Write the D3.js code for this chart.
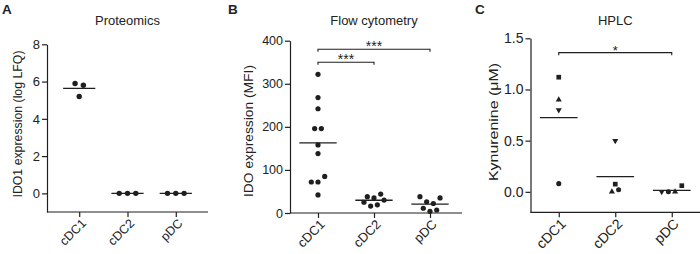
<!DOCTYPE html>
<html>
<head>
<meta charset="utf-8">
<script src="https://cdn.jsdelivr.net/npm/d3@7"></script>
<style>
  body { margin: 0; background: #fff; }
  svg text { font-family: Arial, "Liberation Sans", sans-serif; fill: #222; }
</style>
</head>
<body>
<svg id="chart" width="700" height="254"></svg>
<script>
const categories = ['cDC1', 'cDC2', 'pDC'];

// A: proteomics (log LFQ)
const protCDC1 = [5.9, 5.8, 5.2];
const protCDC2 = [0, 0, 0];
const protPDC = [0, 0, 0];
const protTicks = [0, 2, 4, 6, 8];

// B: flow cytometry (MFI)
const flowCDC1 = [322, 268, 242, 196, 196, 158, 138, 72, 72, 85, 42];
const flowCDC2 = [25, 38, 16, 35, 19, 44, 30];
const flowPDC = [38, 11, 26, 4, 22, 7, 35];
const flowTicks = [0, 100, 200, 300, 400];
const flowComparisons = [['cDC1', 'pDC', 380, '***'], ['cDC1', 'cDC2', 350, '***']];

// C: HPLC kynurenine (uM), one symbol per donor
const donors = ['D1', 'D2', 'D3', 'D4'];
const hplcCDC1 = [['D2', 1.12], ['D3', 0.90], ['D4', 0.80], ['D1', 0.08]];
const hplcCDC2 = [['D4', 0.50], ['D2', 0.075], ['D3', 0.0], ['D1', 0.02]];
const hplcPDC = [['D4', 0.0], ['D1', 0.0], ['D3', 0.0], ['D2', 0.06]];
const hplcTicks = [0, 0.5, 1.0, 1.5];
const hplcComparisons = [['cDC1', 'pDC', 1.36, '*']];

const svg = d3.select('#chart');
const ink = '#1f1f1f';

// donor -> symbol
const donorShape = d3.scaleOrdinal()
  .domain(donors)
  .range([d3.symbolCircle, d3.symbolSquare, d3.symbolTriangle, d3.symbolTriangle]);

// prism-like column scatter: points close in y share a row, row is centered
function spreadRows (values, y, spacing) {
  const rowH = 7.2;
  const order = d3.range(values.length).sort((a, b) => values[a] - values[b] || a - b);
  const rows = [];
  let row = null;
  order.forEach(i => {
    if (row && y(values[row[0]]) - y(values[i]) < rowH) row.push(i);
    else { row = [i]; rows.push(row); }
  });
  const dx = new Array(values.length);
  rows.forEach(r => {
    r.sort((a, b) => a - b);
    r.forEach((i, k) => { dx[i] = (k - (r.length - 1) / 2) * spacing; });
  });
  return dx;
}

function drawPanel (p) {
  const g = svg.append('g');

  const x = d3.scalePoint().domain(categories).range(p.xRange).padding(p.pad);
  const y = d3.scaleLinear().domain(p.yDomain).range(p.yRange);
  const bottom = p.yRange[0];
  const mid = x(categories[1]);

  // panel letter + title
  g.append('text').attr('x', p.letterX).attr('y', 13.5)
    .style('font-size', '13.5px').style('font-weight', 'bold').text(p.letter);
  g.append('text').attr('x', mid).attr('y', 25)
    .attr('text-anchor', 'middle').style('font-size', '13px').text(p.title);

  // y axis
  const ya = g.append('g')
    .attr('transform', `translate(${p.xRange[0]},0)`)
    .call(d3.axisLeft(y).tickValues(p.ticks).tickFormat(p.fmt).tickSize(5).tickSizeOuter(0).tickPadding(2));
  ya.selectAll('path, line').attr('stroke', ink).attr('stroke-width', 1.2);
  ya.selectAll('text').style('font-size', p.tickFont + 'px').attr('fill', '#222');

  g.append('text')
    .attr('transform', `translate(${p.yTitleX},${p.yTitleY}) rotate(-90)`)
    .attr('text-anchor', 'middle').attr('dy', '0.35em')
    .attr('textLength', p.yTitleLen).attr('lengthAdjust', 'spacingAndGlyphs')
    .style('font-size', '13px').text(p.yTitle);

  // x axis
  const xa = g.append('g')
    .attr('transform', `translate(0,${bottom})`)
    .call(d3.axisBottom(x).tickSize(5).tickSizeOuter(0));
  xa.select('.domain').remove();
  xa.selectAll('line').attr('stroke', ink).attr('stroke-width', 1.2);
  xa.selectAll('text')
    .style('font-size', p.catFont + 'px').attr('fill', '#222')
    .attr('text-anchor', 'end')
    .attr('transform', 'translate(4,9) rotate(-45)')
    .attr('x', 0).attr('y', 0).attr('dy', '0.35em');
  g.append('line')
    .attr('x1', p.xRange[0]).attr('x2', p.xEnd)
    .attr('y1', bottom).attr('y2', bottom)
    .attr('stroke', ink).attr('stroke-width', 1.2);

  const halfW = x.step() / 3;

  p.groups.forEach((grp, gi) => {
    const cat = categories[gi];
    const vals = grp.map(d => (Array.isArray(d) ? d[1] : d));
    const dx = spreadRows(vals, y, p.spacing);
    const m = d3.mean(vals);

    g.append('line')
      .attr('x1', x(cat) - halfW).attr('x2', x(cat) + halfW)
      .attr('y1', y(m)).attr('y2', y(m))
      .attr('stroke', ink).attr('stroke-width', 1.3);

    if (p.symbols) {
      g.selectAll(null).data(grp).join('path')
        .attr('d', d => d3.symbol(donorShape(d[0]), d[0] === 'D2' ? 22 : d[0] === 'D1' ? 20 : 16)())
        .attr('transform', (d, i) => `translate(${x(cat) + dx[i]},${y(d[1])})` + (d[0] === 'D4' ? ' rotate(180)' : ''))
        .attr('fill', ink);
    } else {
      g.selectAll(null).data(vals).join('circle')
        .attr('cx', (d, i) => x(cat) + dx[i])
        .attr('cy', d => y(d))
        .attr('r', p.r)
        .attr('fill', ink);
    }
  });

  // significance brackets
  (p.comparisons || []).forEach(c => {
    const x1 = x(c[0]);
    const x2 = x(c[1]);
    const yb = y(c[2]);
    g.append('path')
      .attr('d', `M${x1},${yb + 2.5}V${yb}H${x2}V${yb + 2.5}`)
      .attr('fill', 'none').attr('stroke', ink).attr('stroke-width', 1.1);
    g.append('text')
      .attr('x', (x1 + x2) / 2).attr('y', yb + 2)
      .attr('text-anchor', 'middle').style('font-size', p.starFont + 'px').text(c[3]);
  });
}

drawPanel({
  letter: 'A', letterX: 2, title: 'Proteomics',
  xRange: [47, 208], xEnd: 208, pad: 0.667,
  yDomain: [-1, 8], yRange: [212, 44.3], ticks: protTicks, fmt: d3.format('d'),
  yTitle: 'IDO1 expression (log LFQ)', yTitleX: 17, yTitleY: 124, yTitleLen: 147,
  tickFont: 13, catFont: 12.5,
  groups: [protCDC1, protCDC2, protPDC], spacing: 8.3, r: 2.7
});

drawPanel({
  letter: 'B', letterX: 228, title: 'Flow cytometry',
  xRange: [290, 458], xEnd: 462, pad: 0.5,
  yDomain: [0, 400], yRange: [213, 40.7], ticks: flowTicks, fmt: d3.format('d'),
  yTitle: 'IDO expression (MFI)', yTitleX: 248, yTitleY: 131, yTitleLen: 132,
  tickFont: 12.5, catFont: 13,
  groups: [flowCDC1, flowCDC2, flowPDC], spacing: 6.7, r: 2.6,
  comparisons: flowComparisons, starFont: 14
});

drawPanel({
  letter: 'C', letterX: 475, title: 'HPLC',
  xRange: [530.5, 700], xEnd: 700, pad: 0.5,
  yDomain: [-0.2, 1.5], yRange: [212.3, 38.3], ticks: hplcTicks, fmt: d3.format('.1f'),
  yTitle: 'Kynurenine (μM)', yTitleX: 493, yTitleY: 122, yTitleLen: 118,
  tickFont: 14, catFont: 14,
  groups: [hplcCDC1, hplcCDC2, hplcPDC], spacing: 6.7, symbols: true,
  comparisons: hplcComparisons, starFont: 13
});
</script>
</body>
</html>
